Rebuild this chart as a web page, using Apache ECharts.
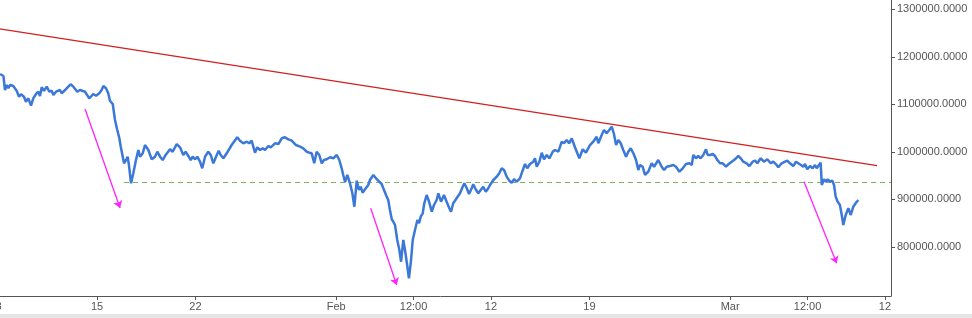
<!DOCTYPE html>
<html>
<head>
<meta charset="utf-8">
<script src="https://cdn.jsdelivr.net/npm/echarts@6/dist/echarts.min.js"></script>
<style>
html,body{margin:0;padding:0;background:#fff;overflow:hidden;}
#wrap{position:relative;width:972px;height:318px;overflow:hidden;}
#chart{position:absolute;left:-10px;top:0;width:982px;height:318px;}
</style>
</head>
<body>
<div id="wrap"><div id="chart"></div></div>
<script>
// x values are days counted from 1 Jan (1 Jan = 0)
const tickDays  = [7, 14, 21, 31, 36.5, 42, 49, 59, 64.5, 70];
const tickTexts = ['8', '15', '22', 'Feb', '12:00', '12', '19', 'Mar', '12:00', '12'];
const yTicks = [800000, 900000, 1000000, 1100000, 1200000, 1300000];

const price = [
[7.11,1163800],[7.35,1159600],[7.46,1130100],[7.58,1140600],[7.70,1134300],[7.82,1140600],[7.94,1136400],[8.05,1138500],[8.29,1128600],[8.46,1116000],
[8.60,1121100],[8.81,1116000],[8.95,1105500],[9.12,1112600],[9.31,1097100],[9.47,1112600],[9.67,1121700],[9.83,1126500],[9.95,1117500],[10.07,1135800],
[10.23,1128600],[10.43,1137100],[10.61,1126500],[10.78,1128600],[10.90,1119600],[11.09,1126500],[11.18,1123200],[11.37,1130100],[11.49,1123200],[11.73,1130100],
[11.96,1137100],[12.13,1142100],[12.32,1137100],[12.60,1126500],[12.79,1130100],[12.91,1131600],[13.15,1126500],[13.45,1112600],[13.74,1121700],[13.93,1118100],
[14.16,1123200],[14.33,1130100],[14.45,1138500],[14.64,1133700],[14.80,1123200],[14.92,1107600],[15.12,1100600],[15.28,1067000],[15.44,1045900],[15.59,1028400],
[15.69,1010700],[15.83,989700],[15.92,975800],[16.06,982700],[16.18,989700],[16.27,972200],[16.42,933700],[16.58,954700],[16.77,982700],[16.94,1003800],
[17.06,989700],[17.25,996800],[17.41,1014300],[17.65,1003800],[17.89,984200],[18.12,989700],[18.29,1000200],[18.48,989700],[18.67,982700],[18.88,993300],
[19.19,1005300],[19.38,1000200],[19.67,1016400],[19.90,1009500],[20.13,993300],[20.30,1000200],[20.49,991200],[20.66,982700],[20.80,989700],[20.97,984200],
[21.13,989700],[21.32,979200],[21.48,965300],[21.68,989700],[21.91,1000200],[22.08,993300],[22.27,975800],[22.46,989700],[22.65,1002300],[22.79,993300],
[22.98,986300],[23.22,996800],[23.57,1014300],[23.97,1030500],[24.16,1023400],[24.40,1017900],[24.64,1021300],[24.82,1017900],[24.99,1023400],[25.11,1019200],
[25.23,998100],[25.39,1009500],[25.59,1003800],[25.78,1007400],[25.94,1003800],[26.18,1012200],[26.35,1009500],[26.65,1017900],[26.89,1016400],[27.13,1028400],
[27.36,1030500],[27.60,1026300],[27.84,1023400],[28.14,1014300],[28.43,1010700],[28.66,1007400],[28.90,1000200],[29.09,998100],[29.26,996800],[29.44,975800],
[29.61,1000200],[29.80,993300],[29.97,975800],[30.13,982700],[30.33,984200],[30.56,988400],[30.80,986300],[31.04,993300],[31.22,982700],[31.39,965300],
[31.50,951200],[31.63,936400],[31.79,951200],[31.98,933700],[32.15,912600],[32.29,884400],[32.46,939200],[32.62,919600],[32.74,926500],[32.88,913900],
[33.05,921100],[33.28,930100],[33.40,940600],[33.64,951200],[33.83,944200],[34.06,937100],[34.23,932200],[34.35,923200],[34.54,909100],[34.70,898500],
[34.82,877500],[34.95,857900],[35.06,852800],[35.18,845900],[35.34,814300],[35.49,793300],[35.61,768600],[35.77,814300],[35.89,793300],[36.01,768600],
[36.17,733700],[36.32,772200],[36.44,814300],[36.60,835400],[36.77,856400],[36.89,849500],[37.01,863400],[37.15,870500],[37.26,891600],[37.43,909100],
[37.60,895000],[37.79,873900],[37.95,888000],[38.14,898500],[38.26,912600],[38.45,895000],[38.66,909100],[38.85,895000],[39.04,881100],[39.16,873900],
[39.32,891600],[39.56,902100],[39.80,912600],[39.99,926500],[40.11,933700],[40.28,923200],[40.44,911200],[40.63,923200],[40.74,931600],[40.94,919600],
[41.10,912600],[41.27,919600],[41.45,926500],[41.63,916000],[41.81,923200],[41.93,930100],[42.05,932200],[42.17,940600],[42.41,947600],[42.59,954700],
[42.76,965300],[42.93,961700],[43.12,947600],[43.30,939200],[43.47,935000],[43.64,942100],[43.83,937100],[44.06,944200],[44.18,954700],[44.42,974300],
[44.58,965300],[44.77,974300],[45.01,979200],[45.13,986300],[45.25,968600],[45.44,979200],[45.61,998100],[45.77,984200],[45.96,993300],[46.15,986300],
[46.39,1000200],[46.55,1003800],[46.79,1000200],[47.03,1021300],[47.19,1017900],[47.38,1024800],[47.55,1017900],[47.74,1028400],[47.97,1009500],[48.28,986300],
[48.52,1005300],[48.75,998100],[49.04,1014300],[49.27,1021300],[49.51,1031800],[49.63,1017900],[49.87,1035400],[50.03,1045900],[50.22,1039000],[50.41,1045900],
[50.58,1052800],[50.74,1037500],[50.89,1014300],[51.05,1024800],[51.22,1017900],[51.40,1003800],[51.60,989700],[51.76,1000200],[51.93,1007400],[52.12,996800],
[52.31,982700],[52.47,961700],[52.59,972200],[52.78,968600],[52.95,951200],[53.18,958100],[53.42,975800],[53.59,968600],[53.89,982700],[54.13,968600],
[54.30,961700],[54.49,968600],[54.72,970100],[54.96,972200],[55.15,968600],[55.39,958100],[55.63,965300],[55.86,974300],[56.10,975800],[56.27,972200],
[56.38,993300],[56.57,986300],[56.73,991200],[56.90,986300],[57.09,993300],[57.28,1005300],[57.40,993300],[57.57,993300],[57.76,995400],[57.92,991200],
[58.09,982700],[58.28,975800],[58.47,975800],[58.70,968600],[58.87,973700],[59.11,979200],[59.34,984200],[59.58,991200],[59.75,986300],[59.93,979200],
[60.17,975800],[60.36,970100],[60.60,979200],[60.77,981300],[60.93,975800],[61.17,986300],[61.40,979200],[61.64,984200],[61.88,975800],[62.07,979200],
[62.26,973700],[62.42,967400],[62.66,975800],[62.90,979200],[63.06,981300],[63.25,975800],[63.49,970100],[63.68,979200],[63.84,975800],[64.03,972200],
[64.20,968600],[64.32,974300],[64.48,963200],[64.67,970100],[64.86,965300],[65.03,972200],[65.15,965300],[65.26,970100],[65.43,977100],[65.51,930100],
[65.67,942100],[65.81,937100],[65.93,942100],[66.09,937100],[66.26,939200],[66.38,930100],[66.50,905500],[66.64,895000],[66.80,888000],[66.93,867000],
[67.04,845900],[67.21,867000],[67.40,881100],[67.57,867000],[67.75,884400],[67.94,892800],[68.11,898500]
];

// resistance trend line (red) endpoints
const trendLine = [[6.4, 1261800], [69.44, 970700]];
// support level (green dashed)
const supportLine = [[15.92, 935400], [70.43, 935400]];
// magenta arrows: [start, end]
const arrows = [
  [[13.15, 1090100], [15.64, 881700]],
  [[33.45, 881000], [35.30, 719600]],
  [[64.25, 937000], [66.57, 765300]]
];

const chart = echarts.init(document.getElementById('chart'));
const font = "'Liberation Sans', Arial, sans-serif";
chart.setOption({
  animation: false,
  backgroundColor: '#ffffff',
  grid: { left: 0, right: 81, top: 0, bottom: 22, containLabel: false },
  xAxis: {
    type: 'value',
    min: 6.396,
    max: 70.43,
    splitLine: { show: false },
    axisLine: { show: true, lineStyle: { color: '#555', width: 1 } },
    axisTick: { show: true, customValues: tickDays, length: 4, lineStyle: { color: '#555' } },
    axisLabel: {
      customValues: tickDays,
      margin: 5,
      color: '#555',
      fontSize: 11,
      fontFamily: font,
      formatter: function (v) {
        for (let i = 0; i < tickDays.length; i++) if (Math.abs(tickDays[i] - v) < 1e-6) return tickTexts[i];
        return '';
      }
    }
  },
  yAxis: {
    type: 'value',
    position: 'right',
    min: 696400,
    max: 1319600,
    splitLine: { show: false },
    axisLine: { show: true, lineStyle: { color: '#555', width: 1 } },
    axisTick: { show: true, customValues: yTicks, length: 4, lineStyle: { color: '#555' } },
    axisLabel: {
      customValues: yTicks,
      margin: 6,
      color: '#555',
      fontSize: 11,
      fontFamily: font,
      formatter: function (v) { return v.toFixed(4); }
    }
  },
  graphic: [{
    type: 'rect', left: 0, bottom: 0, z: -1,
    shape: { width: 982, height: 4 },
    style: { fill: '#e6e6e6' }
  }],
  series: [
    {
      type: 'line', data: trendLine, symbol: 'none', silent: true,
      lineStyle: { color: '#d21f1f', width: 1.3 }, z: 3
    },
    {
      type: 'line', data: supportLine, symbol: 'none', silent: true,
      lineStyle: { color: '#7ab55c', width: 1.2, type: [5, 4] }, z: 3
    },
    {
      type: 'lines', coordinateSystem: 'cartesian2d', silent: true, z: 4,
      symbol: ['none', 'arrow'], symbolSize: 7,
      lineStyle: { color: '#ff22ff', width: 1.3, opacity: 1 },
      data: arrows.map(a => ({ coords: a }))
    },
    {
      type: 'line', data: price, symbol: 'none', silent: true,
      lineStyle: { color: '#3b78d8', width: 2.5 }, z: 5
    }
  ]
});
</script>
</body>
</html>
